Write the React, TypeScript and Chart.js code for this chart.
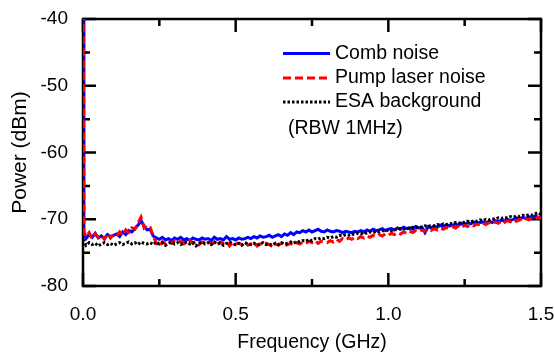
import { useEffect, useRef } from "react";
import { Chart, registerables } from "chart.js";

Chart.register(...registerables);

// Frequency grid (GHz): spike at DC, then 10 MHz steps up to 1.5 GHz
const SPIKE_FREQ = [0, 0.003];
const FREQ_STEP = 0.01;
const FREQ_GHZ = [
  ...SPIKE_FREQ,
  ...Array.from({ length: 150 }, (_, i) => +((i + 1) * FREQ_STEP).toFixed(2)),
];

const COMB_NOISE = [
  -30, -72.2,
  -72.9, -72.3, -72.7, -72.1, -72.8, -72.5, -72.9, -72.3, -72.6, -72.4,
  -72.2, -72.6, -71.9, -72.3, -71.7, -71.9, -71.4, -70.9, -70.2, -71.0,
  -71.6, -71.5, -72.5, -72.8, -73.0, -72.7, -73.1, -72.9, -73.2, -72.8,
  -73.0, -72.7, -73.1, -72.9, -73.2, -72.8, -73.0, -73.1, -72.8, -73.0,
  -72.9, -73.2, -72.7, -73.0, -72.9, -73.1, -72.6, -73.0, -72.9, -73.1,
  -72.8, -73.0, -72.9, -72.7, -72.9, -72.6, -72.8, -72.5, -72.7, -72.6,
  -72.4, -72.7, -72.5, -72.3, -72.6, -72.2, -72.4, -72.0, -72.3, -71.9,
  -72.0, -71.7, -71.9, -71.6, -71.9, -71.7, -71.5, -71.8, -71.9, -71.6,
  -71.8, -71.9, -71.7, -71.8, -72.0, -71.8, -71.9, -72.0, -71.8, -71.9,
  -71.7, -71.9, -71.6, -71.8, -71.5, -71.7, -71.6, -71.4, -71.7, -71.5,
  -71.4, -71.6, -71.3, -71.5, -71.2, -71.4, -71.3, -71.5, -71.1, -71.3,
  -71.2, -72.0, -71.1, -71.3, -71.0, -71.2, -70.9, -71.1, -70.8, -71.0,
  -70.9, -70.7, -70.9, -70.6, -70.8, -70.5, -70.7, -70.4, -70.6, -70.5,
  -70.4, -70.6, -70.3, -70.5, -70.2, -70.4, -70.1, -70.3, -70.0, -70.2,
  -70.0, -69.8, -70.1, -69.7, -69.9, -69.6, -69.8, -69.5, -69.7, -69.8,
];

const PUMP_NOISE = [
  -30, -71.8,
  -72.6, -72.0, -72.9, -72.2, -72.7, -72.4, -73.0, -72.1, -72.8, -72.3,
  -72.5, -71.9, -72.4, -71.6, -72.0, -71.3, -71.5, -70.6, -69.7, -71.3,
  -70.9, -71.2, -72.6, -73.5, -74.1, -73.4, -73.7, -73.3, -73.6, -73.2,
  -73.5, -73.3, -73.7, -73.4, -73.2, -73.6, -73.3, -73.8, -73.4, -73.5,
  -73.3, -73.7, -73.5, -73.9, -73.4, -73.6, -73.3, -74.0, -73.5, -73.7,
  -73.6, -73.8, -73.4, -73.9, -73.7, -73.5, -74.0, -73.7, -73.9, -73.6,
  -73.8, -74.1, -73.7, -73.9, -73.6, -74.0, -73.8, -73.6, -73.9, -73.5,
  -73.7, -73.4, -73.6, -73.3, -73.5, -73.2, -73.6, -73.3, -73.4, -73.5,
  -73.2, -73.4, -73.0, -73.3, -72.9, -73.1, -72.8, -73.0, -72.7, -72.9,
  -72.6, -72.8, -72.5, -72.7, -72.4, -72.6, -72.3, -72.5, -72.2, -72.4,
  -72.1, -72.3, -72.0, -72.2, -71.9, -72.1, -71.8, -72.0, -71.7, -71.9,
  -71.6, -71.8, -71.5, -71.7, -71.4, -71.6, -71.3, -71.5, -71.2, -71.4,
  -71.1, -71.3, -71.0, -71.2, -70.9, -71.1, -70.8, -71.0, -70.7, -70.9,
  -70.6, -70.8, -70.5, -70.7, -70.4, -70.6, -70.3, -70.5, -70.2, -70.4,
  -70.1, -70.3, -70.0, -70.2, -69.9, -70.1, -69.8, -70.0, -69.7, -69.9,
];

const ESA_BACKGROUND = [
  -73.0, -73.3,
  -73.9, -73.5, -73.8, -73.6, -74.0, -73.7, -73.5, -73.8, -73.6, -73.9,
  -73.7, -73.5, -73.8, -73.6, -73.4, -73.7, -73.5, -73.8, -73.4, -73.6,
  -73.7, -73.5, -73.8, -73.4, -73.7, -73.5, -73.9, -73.6, -73.4, -73.7,
  -73.5, -73.8, -73.6, -73.4, -73.7, -73.5, -74.0, -73.6, -73.4, -73.7,
  -73.5, -73.8, -73.4, -73.7, -73.5, -73.9, -73.6, -73.4, -73.7, -73.8,
  -73.6, -73.9, -73.5, -73.7, -73.8, -73.6, -73.9, -73.7, -73.5, -73.8,
  -73.7, -73.9, -73.6, -73.8, -73.5, -73.7, -73.6, -73.4, -73.6, -73.3,
  -73.4, -73.2, -73.3, -73.0, -73.2, -72.9, -73.0, -72.8, -72.9, -72.7,
  -72.8, -72.6, -72.7, -72.4, -72.5, -72.3, -72.4, -72.2, -72.3, -72.1,
  -72.2, -72.0, -72.1, -71.9, -72.0, -71.8, -71.9, -71.7, -71.8, -71.6,
  -71.7, -71.5, -71.6, -71.4, -71.5, -71.3, -71.4, -71.2, -71.3, -71.1,
  -71.2, -71.0, -71.1, -70.9, -71.0, -70.8, -70.9, -70.7, -70.8, -70.6,
  -70.7, -70.5, -70.6, -70.4, -70.5, -70.3, -70.4, -70.2, -70.3, -70.1,
  -70.2, -70.0, -70.1, -69.9, -70.0, -69.8, -69.9, -69.7, -69.8, -69.6,
  -69.7, -69.5, -69.6, -69.4, -69.5, -69.3, -69.4, -69.2, -69.0, -69.3,
];

const X_MAJOR = [0, 0.5, 1.0, 1.5];
const X_MINOR = [0.25, 0.75, 1.25];
const Y_MAJOR = [-80, -70, -60, -50, -40];
const Y_MINOR = [-75, -65, -55, -45];

const LEGEND_LABELS = ["Comb noise", "Pump laser noise", "ESA background"];
const LEGEND_NOTE = "(RBW 1MHz)";

const FONT = "'Liberation Sans', Arial, Helvetica, sans-serif";

const toPoints = (vals: number[]) => vals.map((v, i) => ({ x: FREQ_GHZ[i], y: v }));

const framePlugin = {
  id: "frameTicks",
  beforeDatasetsDraw(chart: any) {
    const { ctx, chartArea } = chart;
    const { left, right, top, bottom } = chartArea;
    const xs = chart.scales.x;
    const ys = chart.scales.y;
    ctx.save();
    ctx.strokeStyle = "#000";
    ctx.lineWidth = 2.5;
    ctx.strokeRect(left, top, right - left, bottom - top);
    const major = 13;
    const minor = 7;
    ctx.beginPath();
    const xTick = (v: number, len: number) => {
      const px = xs.getPixelForValue(v);
      ctx.moveTo(px, bottom);
      ctx.lineTo(px, bottom - len);
      ctx.moveTo(px, top);
      ctx.lineTo(px, top + len);
    };
    const yTick = (v: number, len: number) => {
      const py = ys.getPixelForValue(v);
      ctx.moveTo(left, py);
      ctx.lineTo(left + len, py);
      ctx.moveTo(right, py);
      ctx.lineTo(right - len, py);
    };
    X_MAJOR.forEach((v) => xTick(v, major));
    X_MINOR.forEach((v) => xTick(v, minor));
    Y_MAJOR.forEach((v) => yTick(v, major));
    Y_MINOR.forEach((v) => yTick(v, minor));
    ctx.stroke();
    ctx.restore();
  },
};

const legendPlugin = {
  id: "customLegend",
  afterDraw(chart: any) {
    const { ctx } = chart;
    const rows = [
      { y: 53.5, color: "#0000ff", dash: [] as number[] },
      { y: 78, color: "#ff0000", dash: [8, 4] },
      { y: 102, color: "#000000", dash: [2.5, 2] },
    ];
    ctx.save();
    rows.forEach((r, i) => {
      ctx.beginPath();
      ctx.strokeStyle = r.color;
      ctx.lineWidth = 3;
      ctx.setLineDash(r.dash);
      ctx.moveTo(283, r.y);
      ctx.lineTo(330, r.y);
      ctx.stroke();
      ctx.setLineDash([]);
      ctx.fillStyle = "#000";
      ctx.font = `19.5px ${FONT}`;
      ctx.textBaseline = "middle";
      ctx.textAlign = "left";
      ctx.fillText(LEGEND_LABELS[i], 335, r.y);
    });
    ctx.fillText(LEGEND_NOTE, 288, 129);
    ctx.restore();
  },
};

export default function App() {
  const ref = useRef<HTMLCanvasElement | null>(null);
  useEffect(() => {
    if (!ref.current) return;
    const chart = new Chart(ref.current, {
      type: "line",
      data: {
        datasets: [
          {
            label: LEGEND_LABELS[0],
            data: toPoints(COMB_NOISE),
            borderColor: "#0000ff",
            borderWidth: 3,
            pointRadius: 0,
            tension: 0,
            order: 3,
          },
          {
            label: LEGEND_LABELS[1],
            data: toPoints(PUMP_NOISE),
            borderColor: "#ff0000",
            borderWidth: 3,
            borderDash: [8, 4],
            pointRadius: 0,
            tension: 0,
            order: 2,
          },
          {
            label: LEGEND_LABELS[2],
            data: toPoints(ESA_BACKGROUND),
            borderColor: "#000000",
            borderWidth: 3,
            borderDash: [2.5, 2],
            pointRadius: 0,
            tension: 0,
            order: 1,
          },
        ],
      },
      options: {
        animation: false,
        responsive: true,
        maintainAspectRatio: false,
        layout: { padding: { top: 19, right: 13, left: 0, bottom: 0 } },
        plugins: { legend: { display: false }, tooltip: { enabled: false } },
        scales: {
          x: {
            type: "linear",
            min: 0,
            max: 1.5,
            grid: { display: false, drawTicks: false },
            border: { display: false },
            ticks: {
              stepSize: 0.5,
              padding: 17,
              color: "#000",
              font: { family: FONT, size: 19 },
              maxRotation: 0,
              callback: (v: any) => Number(v).toFixed(1),
            },
            title: {
              display: true,
              text: "Frequency (GHz)",
              color: "#000",
              font: { family: FONT, size: 19.5, lineHeight: 1 },
              padding: { top: 0, bottom: 1 },
            },
            afterFit: (s: any) => {
              s.height = 67;
              s.paddingLeft = 0;
              s.paddingRight = 0;
            },
          },
          y: {
            type: "linear",
            min: -80,
            max: -40,
            grid: { display: false, drawTicks: false },
            border: { display: false },
            ticks: {
              stepSize: 10,
              padding: 15,
              color: "#000",
              font: { family: FONT, size: 19 },
              callback: (v: any) => String(v),
            },
            title: {
              display: true,
              text: "Power (dBm)",
              color: "#000",
              font: { family: FONT, size: 21, lineHeight: 1 },
              padding: { top: 10, bottom: 0 },
            },
            afterFit: (s: any) => {
              s.width = 83;
              s.paddingTop = 0;
              s.paddingBottom = 0;
            },
          },
        },
      },
      plugins: [framePlugin, legendPlugin],
    } as any);
    return () => chart.destroy();
  }, []);

  return (
    <div style={{ position: "fixed", left: 0, top: 0, width: 554, height: 353 }}>
      <canvas ref={ref} />
    </div>
  );
}
